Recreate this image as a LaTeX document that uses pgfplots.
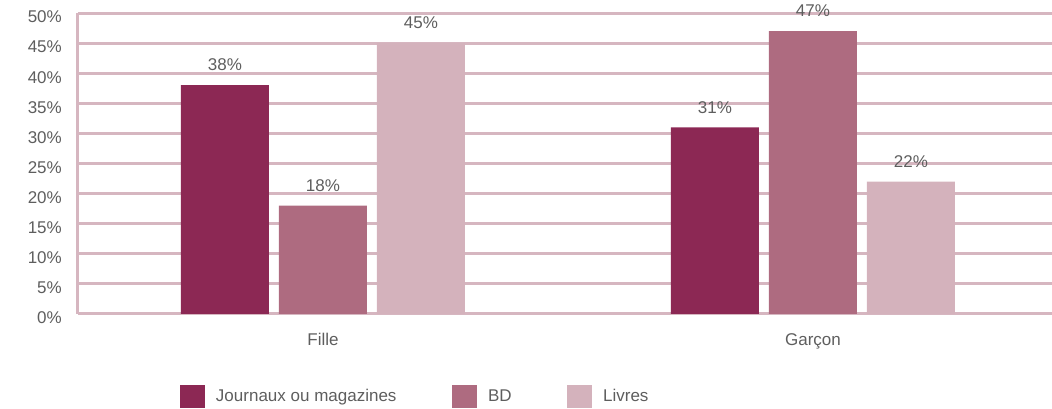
\documentclass[border=0pt]{standalone}
\usepackage{pgfplots}
\pgfplotsset{compat=1.18}
\usepackage{fontspec}
\setmainfont{Liberation Sans}

\definecolor{cJour}{HTML}{8C2854}
\definecolor{cBD}{HTML}{AE6B80}
\definecolor{cLiv}{HTML}{D4B2BC}
\definecolor{gridc}{HTML}{D6B6C0}
\definecolor{txt}{HTML}{5E5E5E}

\begin{document}
\begin{tikzpicture}
\begin{axis}[
    name=ax,
    scale only axis,
    width=974pt, height=301pt,
    ybar=10pt, bar width=88pt,
    xmin=-0.5, xmax=1.4878,
    ymin=0, ymax=50,
    enlarge y limits=false,
    xtick=data, xticklabels={Fille, Garçon},
    ytick distance=5,
    yticklabel={\pgfmathprintnumber{\tick}\%},
    /pgf/number format/assume math mode=true,
    major tick length=0pt,
    tick style={draw=none},
    axis x line=bottom, axis y line=left,
    axis line style={-, draw=gridc, line width=3pt},
    ymajorgrids,
    grid style={gridc, line width=3pt},
    font=\fontsize{17}{20}\selectfont,
    tick label style={text=txt, font=\fontsize{17}{20}\selectfont},
    yticklabel style={inner sep=0pt, xshift=-16pt, yshift=-4pt},
    xticklabel style={inner sep=0pt, yshift=-19pt},
    nodes near coords={\pgfmathprintnumber{\pgfplotspointmeta}\%},
    every node near coord/.append style={text=txt, font=\fontsize{17}{20}\selectfont, inner sep=0pt, yshift=14pt},
    legend columns=3,
    legend style={at={(0.104,-0.274)}, anchor=west, draw=none, fill=none,
        inner sep=0pt, font=\fontsize{17}{20}\selectfont, text=txt,
        nodes={inner sep=0pt, anchor=west},
        /tikz/every odd column/.style={column sep=11.5pt},
        /tikz/every even column/.style={column sep=55pt}},
    legend image code/.code={\fill[#1] (0pt,-11.5pt) rectangle (25pt,11.5pt);},
]
\addplot[draw=none, fill=cJour] coordinates {(0,38) (1,31)};
\addplot[draw=none, fill=cBD] coordinates {(0,18) (1,47)};
\addplot[draw=none, fill=cLiv] coordinates {(0,45) (1,22)};
\legend{Journaux ou magazines, BD, Livres}
\end{axis}
\pgfresetboundingbox
\path[use as bounding box] ([shift={(-78pt,-95pt)}]ax.south west) rectangle ([shift={(0pt,13pt)}]ax.north east);
\end{tikzpicture}
\end{document}
